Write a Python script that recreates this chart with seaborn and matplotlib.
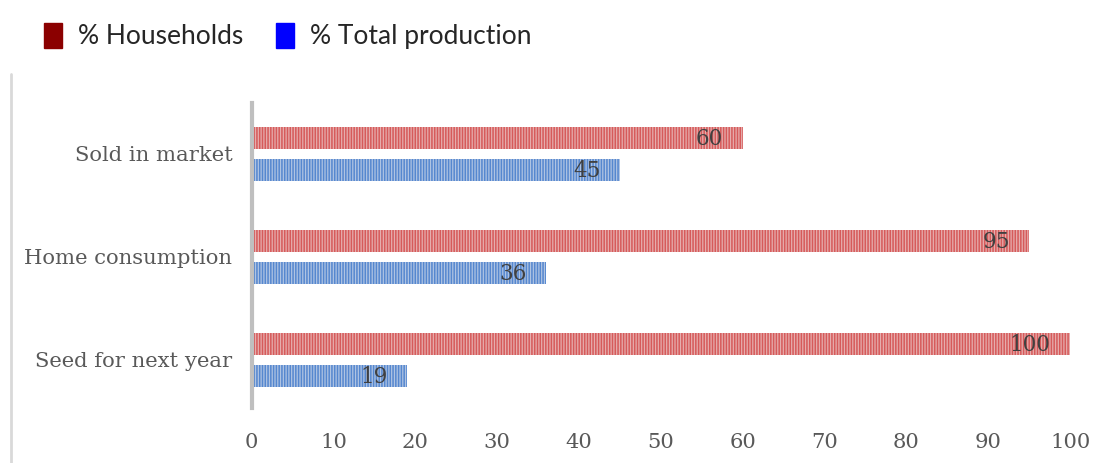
import numpy as np
import pandas as pd
import seaborn as sns
import matplotlib.pyplot as plt
from matplotlib.patches import Patch
from matplotlib.lines import Line2D

# data
uses = ["Sold in market", "Home consumption", "Seed for next year"]
households = [60, 95, 100]
total_production = [45, 36, 19]
series = ["% Households", "% Total production"]

df = pd.DataFrame({
    "use": uses * 2,
    "value": households + total_production,
    "series": [series[0]] * 3 + [series[1]] * 3,
})

sns.set_style("white")
plt.rcParams["hatch.linewidth"] = 1.1

fig = plt.figure(figsize=(11.09, 4.63), dpi=100)
ax = fig.add_axes([0.227, 0.119, 0.738, 0.659])

bar_faces = ["#f0a3a3", "#a6c3ec"]
hatch_cols = ["#d65a5a", "#5587cf"]

sns.barplot(data=df, x="value", y="use", hue="series", order=uses,
            hue_order=series, palette=bar_faces, orient="h",
            width=0.62, gap=0.3, legend=False, ax=ax)

for cont, hc in zip(ax.containers, hatch_cols):
    for p in cont:
        p.set_hatch("||||||")
        p.set_edgecolor(hc)
        p.set_linewidth(0)
        ax.annotate(f"{p.get_width():.0f}",
                    (p.get_x() + p.get_width(), p.get_y() + p.get_height() / 2),
                    xytext=(-14, -1), textcoords="offset points",
                    ha="right", va="center", fontsize=15.5,
                    family="DejaVu Serif", color="#404040")

ax.set_xlim(0, 100)
ax.set_ylim(2.466, -0.495)
ax.set_xticks(np.arange(0, 101, 10))
ax.set_xlabel("")
ax.set_ylabel("")
for s in ["top", "right", "bottom"]:
    ax.spines[s].set_visible(False)
ax.spines["left"].set_color("#bfbfbf")
ax.spines["left"].set_linewidth(3)
ax.tick_params(axis="both", length=0, colors="#595959", labelsize=15.2)
ax.tick_params(axis="x", pad=18)
ax.tick_params(axis="y", pad=14)
for lbl in ax.get_xticklabels() + ax.get_yticklabels():
    lbl.set_family("DejaVu Serif")

handles = [Patch(facecolor="#8b0000", edgecolor="#8b0000"),
           Patch(facecolor="#0000ff", edgecolor="#0000ff")]
fig.legend(handles, series, loc="center left", bbox_to_anchor=(0.0397, 0.922),
           ncol=2, frameon=False, prop={"family": "Lato", "size": 19},
           handlelength=0.68, handleheight=1.06, handletextpad=0.6,
           columnspacing=1.25, borderpad=0, borderaxespad=0)

# faint frame line on the left
fig.add_artist(Line2D([0.010, 0.010], [0, 0.84], color="#d9d9d9", lw=2,
                      transform=fig.transFigure))

fig.savefig("out.png", dpi=100)
